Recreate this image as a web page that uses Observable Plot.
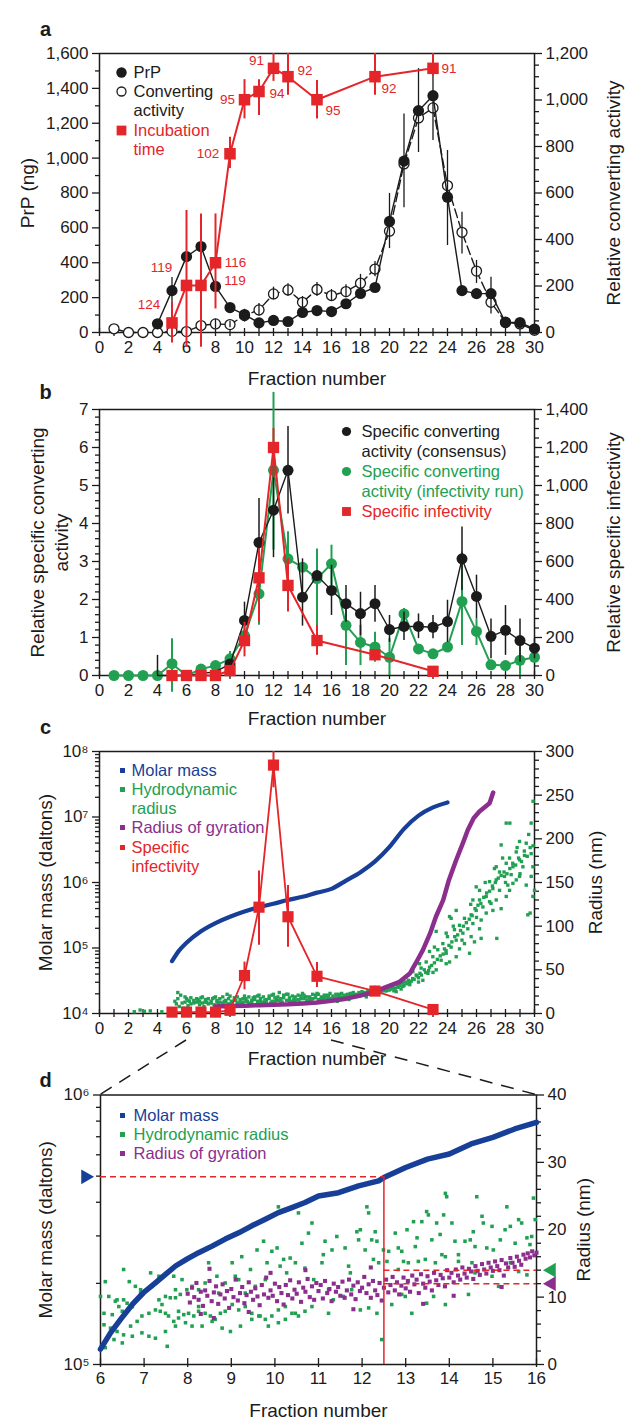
<!DOCTYPE html>
<html>
<head>
<meta charset="utf-8">
<script src="https://cdn.jsdelivr.net/npm/d3@7"></script>
<script src="https://cdn.jsdelivr.net/npm/@observablehq/plot@0.6"></script>
<style>
  html, body { margin: 0; padding: 0; background: #ffffff; }
  #root { position: relative; width: 638px; height: 1425px; overflow: hidden; background: #ffffff; }
  #root svg { position: absolute; left: 0; }
</style>
</head>
<body>
<div id="root"></div>
<script>
// ================= DATA =================
// ---- Panel a ----
const aFraction = [1,2,3,4,5,6,7,8,9,10,11,12,13,14,15,16,17,18,19,20,21,22,23,24,25,26,27,28,29,30];
const aActivity = [16,0,0,0,5,4,30,37,34,73,97,166,183,130,185,159,176,212,273,436,725,923,966,632,431,264,130,44,37,10];
const aPrpFraction = [4,5,6,7,8,9,10,11,12,13,14,15,16,17,18,19,20,21,22,23,24,25,26,27,28,29,30];
const aPrp = [50,240,435,493,264,143,103,55,69,63,115,126,120,165,224,258,637,983,1272,1358,776,240,223,223,57,57,20];
const aActErrFraction = [7,8,9,10,11,12,13,14,15,16,17,18,19,20,21,22,23,24,25,26,27];
const aActErrLow  = [15,17,20,45,70,140,155,105,155,135,150,175,240,361,537,774,826,374,338,211,80];
const aActErrHigh = [45,57,48,100,125,195,210,155,215,185,205,250,305,598,940,1135,1200,783,517,310,238];
const aPrpErrFraction = [5];
const aPrpErrLow = [143];
const aPrpErrHigh = [315];
const aIncFraction = [5,6,7,8,9,10,11,12,13,15,19,23];
const aIncPosition = [55,270,270,400,1025,1335,1382,1515,1467,1335,1467,1515];
const aIncDays = [124,119,119,116,102,95,94,91,92,95,92,91];
const aIncErrLow  = [-60,-85,-85,135,940,1225,1245,1440,1360,1225,1360,1470];
const aIncErrHigh = [170,700,680,680,1120,1450,1450,1600,1600,1445,1600,1600];
const aPrpTicks = [0,200,400,600,800,1000,1200,1400,1600];
const aActTicks = [0,200,400,600,800,1000,1200];

// ---- Panel b ----
const bFraction = [1,2,3,4,5,6,7,8,9,10,11,12,13,14,15,16,17,18,19,20,21,22,23,24,25,26,27,28,29,30];
const bInfRun = [0,0,0,0,0.31,0,0.17,0.26,0.44,1.05,2.15,5.4,3.07,2.85,2.55,2.94,1.32,0.87,0.75,0.48,1.62,0.70,0.57,0.75,1.95,1.16,0.28,0.26,0.40,0.48];
const bInfRunErrFraction = [5,9,11,12,13,15,16,17,18,19,20,21,25,26,29];
const bInfRunErrLow  = [-0.44,0.17,1.32,3.3,2.37,1.23,2.37,0.26,0.26,0.35,0,1.23,0.79,0.79,0];
const bInfRunErrHigh = [0.97,0.63,2.63,7.45,3.78,3.33,3.43,1.84,1.32,1.14,0.97,1.76,3.25,1.49,0.97];
const bConsFraction = [4,5,6,7,8,9,10,11,12,13,14,15,16,17,18,19,20,21,22,23,24,25,26,27,28,29,30];
const bCons = [0,0,0,0.05,0.1,0.3,1.45,3.5,4.35,5.4,2.06,2.63,2.24,1.89,1.63,1.89,1.21,1.29,1.29,1.27,1.42,3.07,2.08,1.03,1.19,0.92,0.72];
const bConsErrFraction = [4,10,11,12,13,14,16,17,18,19,20,21,22,23,24,25,26,27,28,29,30];
const bConsErrLow  = [0,0.97,2.37,3.1,4.25,1.3,1.58,1.40,1.05,1.40,0.87,0.92,0.97,0.97,0.87,2.24,1.49,0.44,0.53,0.35,0.44];
const bConsErrHigh = [0.53,1.93,4.66,5.6,6.55,3.07,2.9,2.37,2.19,2.37,1.58,1.67,1.62,1.58,1.98,3.91,2.64,1.49,1.84,1.49,0.97];
const bInfFraction = [5,6,7,8,9,10,11,12,13,15,19,23];
const bInfectivity = [0,0,0,0,26,184,514,1200,474,184,109,22];
const bInfErrFraction = [10,11,12,13,15,19];
const bInfErrLow  = [98,281,1040,334,106,90];
const bInfErrHigh = [280,666,1300,614,264,130];
const bLeftTicks = [0,1,2,3,4,5,6,7];
const bRightTicks = [0,200,400,600,800,1000,1200,1400];

// ---- Panel c (molar mass in daltons, radii in nm) ----
const cInfFraction = [5,6,7,8,9,10,11,12,13,15,19,23];
const cInfectivity = [1.05e4,1.05e4,1.05e4,1.05e4,1.12e4,3.8e4,4.2e5,6.2e7,3.0e5,3.7e4,2.2e4,1.15e4];
const cInfErrFraction = [10,11,12,13,15,19];
const cInfErrLow  = [2.3e4,1.1e5,2.8e7,1.03e5,2.5e4,1.9e4];
const cInfErrHigh = [6.1e4,1.5e6,1e8,9e5,6e4,2.6e4];
const cMassFraction = [5,5.5,6,7,8,9,10,11,12,13,14,15,16,17,18,19,20,21,22,23,24];
const cMass = [6.3e4,9.2e4,1.2e5,1.8e5,2.4e5,3.0e5,3.6e5,4.2e5,4.75e5,5.4e5,6.05e5,7.0e5,8.0e5,1.07e6,1.44e6,2.1e6,3.5e6,6.6e6,1.05e7,1.4e7,1.67e7];
const cGyrFraction = [8,9,10,11,12,13,14,15,16,17,18,19,19.8,20.7,21.4,21.8,22.3,22.8,23.2,23.7,24.1,24.6,25.1,25.4,25.8,26.2,26.9,27.15];
const cGyr = [8,8.5,9,9.5,10,10.5,11.5,12.5,14.5,17,20.5,25,30.5,36.3,45.8,57.3,72.6,91.7,110.8,129.9,152.9,175.8,196.8,210.2,223.6,231.2,240.8,253];
const cHydro = [
 [2.4,2],[2.8,4],[3.1,2.5],[3.5,3],[4.3,2],[5.3,11],[5.6,21],[5.5,8],[5.9,13],[6.1,9],[6.3,11],[6.5,15],[6.7,13],[6.9,10],[7.1,12],[7.3,16],[7.5,11],[7.7,14],[7.9,10],[8.1,13],[8.3,17],[8.5,12],[8.7,15],[8.9,11],[9.1,14],[9.3,18],[9.5,12],[9.7,16],[9.9,13],[10.1,17],[10.3,12],[10.5,15],[10.7,19],[10.9,14],[11.1,17],[11.3,13],[11.5,16],[11.7,20],[11.9,14],[12.1,18],[12.3,15],[12.5,17],[12.7,21],[12.9,15],[13.1,18],[13.3,14],[13.5,19],[13.7,16],[13.9,20],[14.1,17],[14.3,15],[14.5,19],[14.7,17],[14.9,21],[15.1,16],[15.3,19],[15.5,18],[15.7,21],[15.9,17],[16.1,20],[16.3,18],[16.5,22],[16.7,19],[16.9,21],[17.1,20],[17.3,23],[17.5,21],[17.7,22],[17.9,24],[18.1,22],[18.3,24],[18.5,23],[18.7,26],[18.9,24],[19.1,25],[19.3,27],[19.5,26],[19.7,28],[19.9,29],
 [6.0,17],[7.0,18],[8.0,19],[9.0,20],[10.0,20],[11.0,21],[12.0,22],[13.0,22],[14.0,23],[15.0,23],[5.8,6],[7.2,8],[9.2,9],[11.2,10],[13.2,11],[15.2,13],[17.2,16],[18.4,19],
 [6.2,14],[6.8,16],[7.4,13],[7.8,17],[8.2,11],[8.6,14],[9.4,15],[9.8,11],[10.2,14],[10.6,18],[11.4,15],[11.8,12],[12.2,16],[12.6,13],[13.4,16],[13.8,13],[14.2,19],[14.6,14],[15.4,16],[15.8,20],[16.2,17],[16.6,16],[17.0,18],[17.4,19],[17.8,20],[18.2,21],[18.6,22],[19.0,23],[19.4,24],[19.8,26],
 [5.2,14],[5.4,17],[5.7,12],[5.9,19],[6.1,15],[6.3,18],[6.5,12],[6.7,17],[6.9,14],[7.1,19],[7.3,13],[7.5,17],[7.7,12],[7.9,18],[8.1,15],[8.3,13],[8.5,19],[8.7,13],[8.9,17],[9.1,12],[9.3,15],[9.5,19],[9.7,13],[9.9,17],[10.1,14],[10.3,19],[10.5,13],[10.7,16],[10.9,20],[11.1,14],[11.3,19],[11.5,13],[11.7,17],[11.9,21],[12.1,14],[12.3,19],[12.5,14],[12.7,18],[12.9,22],[13.1,15],[13.3,20],[13.5,15],[13.7,21],[13.9,17],[14.1,21],[14.3,19],[14.5,16],[14.7,22],[14.9,18],[15.1,22],[15.3,17],[15.5,21],[15.7,18],[15.9,23],[16.1,18],[16.3,22],[16.5,19],[16.7,23],[16.9,19],[17.1,22],[17.3,20],[17.5,24],[17.7,21],[17.9,22],[18.1,25],[18.3,22],[18.5,25],[18.7,23],[18.9,27],[19.1,24],[19.3,25],[19.5,28],[19.7,26],[19.9,27],[5.4,24],[8.8,22],[12.4,24],[10.2,9],[14.8,12],[16.4,14],
 [20.0,27],[20.2,30],[20.3,26],[20.5,33],[20.6,30],[20.8,28],[21.0,32],[21.1,36],[21.3,38],[21.4,33],[21.6,40],[21.9,43],[22.1,46],[22.4,50],
 [20.1,28],[20.4,29],[20.7,32],[20.9,35],[21.2,34],[21.5,37],[21.7,39],[22.0,41],[22.2,44],[22.5,47],[22.7,49],[22.9,55],[23.1,58],[23.3,62],[23.5,66],[23.7,68],[23.9,72],[24.1,78],[24.3,82],[24.5,88],[24.7,90],[24.9,95],[25.1,100],[25.3,104],[25.5,108],[25.7,112],[25.9,120],[26.1,124],[26.3,126],[26.5,133],[26.7,138],[26.9,140],[27.1,146],[27.3,150],[27.5,155],[27.7,158],[27.9,162],[28.1,160],[28.3,166],[28.5,172],[28.7,170],[28.9,178],[29.1,174],[29.3,186],[29.5,180],[29.7,190],[29.9,192],[24.0,88],[25.0,84],[26.0,110],[27.0,126],[28.0,150],[29.0,160],[23.0,47],[22.0,36],[26.6,150],[27.8,178],[28.8,190],[29.6,205],[25.6,125],[24.4,100],
 [29.9,243],[28.05,218],[29.77,218],[28.97,197],[27.7,193],[29.43,195],[28.74,185],[29.31,181],[29.77,183],[28.28,178],[28.97,176],[28.05,172],[28.51,168],[27.24,166],[29.2,168],[27.59,162],[28.39,159],[27.93,157],[28.74,153],[29.77,157],[27.36,153],[26.9,151],[28.16,147],[25.98,145],[27.13,143],[27.59,141],[28.05,134],[26.67,134],[26.21,130],[29.89,134],[26.9,128],[27.7,120],[26.44,122],[25.98,118],[25.63,113],[26.67,115],[29.54,113],[24.6,118],[25.17,109],[25.75,103],[24.25,109],[24.83,101],[25.4,97],[26.21,97],[24.48,96],[25.06,92],[23.91,92],[25.63,88],[24.6,84],[26.32,86],[23.22,94],[23.68,80],[24.25,76],[24.83,74],[23.33,73],[23.91,69],[22.76,71],[22.99,65],[23.56,61],[24.14,59],[22.53,59],[22.07,57],[22.76,53],[22.18,52],[21.61,48],[21.84,44],[21.15,42],[21.38,36],[20.69,34],[20.23,31],[20.92,31],[19.77,27],[20.46,25],[27.36,168],[30.0,141],[26.21,141],[27.36,130],[28.28,141],[23.91,57],[23.22,50],[22.65,46],[22.3,38],[25.52,69],[25.17,80],[25.86,82],[26.32,107],[28.97,157],[29.43,147],[29.89,168],[28.51,149],[27.13,118],[25.75,130],[24.14,111],[23.79,74],[24.6,65],[23.1,76],[28.3,218],[29.7,115],[27.4,86]
];
const cMassTicks = [1e4,1e5,1e6,1e7,1e8];
const cRadiusTicks = [0,50,100,150,200,250,300];

// ---- Panel d ----
const dMassFraction = [6.0,6.23,6.46,6.73,6.99,7.26,7.49,7.72,7.98,8.25,8.56,8.86,9.17,9.47,9.78,10.08,10.39,10.69,11.0,11.46,11.92,12.38,12.5,13,13.5,14,14.5,15,15.5,16];
const dMass = [1.14e5,1.31e5,1.47e5,1.67e5,1.85e5,2.01e5,2.16e5,2.32e5,2.46e5,2.60e5,2.75e5,2.92e5,3.08e5,3.27e5,3.46e5,3.66e5,3.82e5,3.99e5,4.22e5,4.34e5,4.6e5,4.8e5,4.94e5,5.38e5,5.78e5,6.04e5,6.58e5,6.96e5,7.48e5,7.91e5];
const dHydro = [
 [6.11,12.3],[6.53,14.1],[6.66,12.3],[6.0,10.1],[6.19,10.1],[6.34,9.4],[6.08,7.6],[6.27,7.4],[6.42,8.6],[6.5,7.9],[6.61,9.1],[6.73,8.6],[6.8,9.4],[6.92,10.6],[7.03,10.9],[7.18,11.6],[7.26,12.1],[7.34,9.6],[7.41,8.9],[7.49,10.1],[7.6,9.9],[7.72,9.9],[7.83,10.4],
 [6.08,5.9],[6.23,5.4],[6.38,4.9],[6.53,4.4],[6.69,5.7],[6.84,6.4],[6.95,7.2],[7.11,7.6],[7.26,8.1],[7.37,7.9],[7.49,7.6],[7.56,7.2],[7.68,6.4],[7.79,6.9],[7.91,7.4],[8.02,7.6],[8.14,7.2],[8.25,7.9],[8.4,7.6],[8.52,7.2],[8.63,6.7],[8.75,7.6],[8.86,7.9],[9.02,8.9],[9.17,8.1],[9.32,8.6],[9.47,7.6],[9.63,7.2],[9.78,6.7],[9.93,7.2],[10.08,8.1],[10.24,8.6],[10.39,7.6],[10.54,7.2],[10.69,7.9],[10.85,8.6],
 [6.11,2.5],[6.31,3.7],[6.5,3.2],[6.73,4.2],[6.95,4.7],[7.11,4.2],[7.26,3.9],[7.49,4.9],[7.53,2.7],[7.72,5.7],[7.95,6.2],[8.1,5.7],[8.33,5.7],[8.56,6.4],[8.79,5.4],[8.98,4.9],[9.21,5.7],[9.47,6.7],[9.66,7.2],[9.85,5.7],[10.08,6.2],[10.24,6.7],[10.47,7.6],
 [8.25,11.1],[8.48,15.1],[8.67,13.1],[8.86,12.1],[9.02,15.1],[9.09,13.1],[9.24,16.0],[9.44,14.1],[9.59,17.0],[9.74,18.3],[9.82,15.1],[9.93,16.8],[10.05,17.3],[10.12,14.6],[10.2,15.6],[10.27,13.6],[10.35,15.8],[10.47,15.1],[10.54,22.5],[10.62,18.0],[10.69,14.3],[10.77,19.5],[10.85,21.0],[10.89,12.6],[10.08,23.4],[9.78,12.6],[9.55,11.6],[9.32,10.6],[9.17,12.6],[8.71,10.6],[8.4,12.1],[8.1,11.6],[7.87,12.6],[7.98,11.1],[7.68,13.1],[7.34,13.1],[7.15,13.6],[6.92,11.1],[6.8,11.6],[6.53,9.6],[6.38,9.6],[7.72,11.1],[7.79,7.9],[8.25,8.6],
 [11.15,18.3],[11.31,17.0],[11.11,16.3],[11.08,15.1],[11.42,19.0],[11.61,17.3],[11.69,14.6],[11.73,13.6],[11.88,19.7],[11.96,20.0],[11.92,18.5],[12.11,23.4],[12.15,22.5],[12.07,17.0],[12.22,18.5],[12.34,18.3],[12.3,19.7],[12.26,15.6],[12.38,15.1],[12.49,17.0],[12.61,16.8],[12.57,15.3],[12.45,3.7],[12.76,19.5],[12.83,17.3],[12.91,16.8],[12.95,15.3],[13.03,20.0],[13.18,21.2],[13.26,18.8],[13.22,17.5],[13.37,21.2],[13.48,22.7],[13.52,22.2],[13.45,15.6],[13.6,18.5],[13.71,21.0],[13.79,19.3],[13.87,22.2],[13.91,25.4],[13.94,24.9],[13.83,16.3],[13.91,16.0],[14.06,21.0],[14.13,18.3],[14.21,16.3],[14.36,18.3],[14.48,18.5],[14.55,19.7],[14.63,24.9],[14.59,17.5],[14.75,22.0],[14.78,21.0],[14.86,17.3],[14.98,20.5],[15.01,17.0],[15.17,18.5],[15.28,20.0],[15.32,23.4],[15.4,20.5],[15.51,18.0],[15.59,21.5],[15.66,21.0],[15.78,18.8],[15.89,19.0],[15.93,24.7],[15.97,21.5],[15.85,17.8],
 [11.23,11.1],[11.34,9.6],[11.23,7.6],[11.57,10.1],[11.76,11.1],[11.96,8.1],[12.15,8.4],[12.34,7.6],[12.68,8.9],[12.91,10.4],[12.99,10.1],[13.14,7.6],[13.48,9.1],[13.64,10.1],[13.91,8.9],[14.44,10.4],[14.59,13.6],[15.13,11.6],[14.98,13.1],[15.4,15.1],[15.59,13.8],[15.78,13.3],[14.52,15.1],[14.21,15.3],[13.68,15.1],[13.29,15.3],[13.06,15.1],[12.83,14.1]
];
const dGyr = [
 [8.0,10.5],[8.05,9.2],[8.1,11.4],[8.15,10.0],[8.2,12.1],[8.25,9.6],[8.3,10.8],[8.35,8.7],[8.4,11.0],[8.45,10.2],[8.5,12.4],[8.55,9.4],[8.6,10.7],[8.65,11.6],[8.7,9.0],[8.75,10.4],[8.8,11.9],[8.85,9.8],[8.9,10.9],[8.95,8.4],[9.0,11.2],[9.05,10.0],[9.1,12.6],[9.15,9.5],[9.2,10.6],[9.25,11.5],[9.3,9.1],[9.35,10.3],[9.4,12.2],[9.45,10.8],[9.5,9.6],[9.55,11.3],[9.6,10.1],[9.65,8.8],[9.7,11.8],[9.75,10.4],[9.8,12.9],[9.85,9.9],[9.9,11.0],[9.95,10.2],[10.0,12.0],[10.05,9.4],[10.1,11.5],[10.15,10.6],[10.2,8.9],[10.25,11.8],[10.3,10.3],[10.35,12.5],[10.4,9.8],[10.45,11.1],[10.5,10.5],[10.55,12.2],[10.6,9.3],[10.65,11.4],[10.7,10.8],[10.75,12.7],[10.8,10.0],[10.85,11.6],[10.9,9.6],[10.95,12.1],
 [11.0,10.9],[11.05,11.8],[11.1,9.8],[11.15,12.4],[11.2,10.6],[11.25,11.2],[11.3,9.4],[11.35,12.0],[11.4,10.8],[11.45,11.5],[11.5,10.2],[11.55,12.3],[11.6,9.9],[11.65,11.0],[11.7,12.6],[11.75,10.4],[11.8,11.7],[11.85,9.7],[11.9,12.2],[11.95,10.9],[12.0,11.4],[12.05,13.0],[12.1,10.6],[12.15,11.9],[12.2,9.9],[12.25,12.4],[12.3,11.0],[12.35,10.3],[12.4,12.1],[12.45,9.5],[12.5,11.4],[12.55,12.6],[12.6,10.7],[12.65,11.8],[12.7,13.0],[12.75,11.0],[12.8,12.2],[12.85,10.4],[12.9,11.7],[12.95,12.9],
 [13.0,11.3],[13.05,12.4],[13.1,10.8],[13.15,13.2],[13.2,11.9],[13.25,12.6],[13.3,10.6],[13.35,13.4],[13.4,12.0],[13.45,11.4],[13.5,13.1],[13.55,12.3],[13.6,11.0],[13.65,13.6],[13.7,12.5],[13.75,11.8],[13.8,13.3],[13.85,12.8],[13.9,11.6],[13.95,14.0],[14.0,12.9],[14.05,13.6],[14.1,12.2],[14.15,14.1],[14.2,13.2],[14.25,12.6],[14.3,14.4],[14.35,13.5],[14.4,12.9],[14.45,14.2],[14.5,13.8],[14.55,12.7],[14.6,14.6],[14.65,13.9],[14.7,13.3],[14.75,14.9],[14.8,14.1],[14.85,13.5],[14.9,15.1],[14.95,14.4],
 [15.0,13.9],[15.05,15.3],[15.1,14.6],[15.15,14.0],[15.2,15.5],[15.25,13.2],[15.3,15.0],[15.35,14.4],[15.4,15.8],[15.45,15.1],[15.5,14.5],[15.55,16.0],[15.6,15.4],[15.65,14.8],[15.7,16.3],[15.75,15.7],[15.8,16.5],[15.85,15.9],[15.9,16.8],[15.95,16.2],[16.0,16.6],
 [8.3,7.5],[8.6,6.9],[9.4,7.8],[11.8,8.2],[13.4,9.0],[14.1,10.2],[15.2,11.5],[8.5,14.2],[10.7,14.0],[9.9,13.6],[12.2,14.4]
];
const dMassTicks = [1e5,1e6];
const dMarkFraction = 12.5;
const dMarkMass = 4.97e5;
const dMarkHydro = 14;
const dMarkGyr = 12;
const dRadiusTicks = [0,10,20,30,40];

// ================= STYLE / HELPERS =================
const BLACK = "#1b1b1b", RED = "#e4252a", GREEN = "#21a052", PURPLE = "#8b2e8d", BLUE = "#183f98";
const FONT = '"Liberation Sans", Arial, Helvetica, sans-serif';
const W = 638;
const root = document.getElementById("root");
const baseStyle = {fontFamily: FONT, fontSize: "17px", color: BLACK, background: "transparent", overflow: "visible"};
const blank = () => "";
const sup = "⁰¹²³⁴⁵⁶⁷⁸⁹";
const lg = Math.log10;
const logFmt = v => "10" + sup[Math.round(v)];

function xAxes(major, minor, outward, inward) {
  return [
    Plot.axisX({ticks: major, tickSize: outward, tickPadding: 4, label: null, tickFormat: d => String(d), strokeWidth: 1.3}),
    Plot.axisX({ticks: minor, tickSize: outward, label: null, tickFormat: blank, strokeWidth: 1.3}),
    Plot.axisX({ticks: major.concat(minor), tickSize: -inward, label: null, tickFormat: blank, strokeWidth: 1.3})
  ];
}
function yAxes(anchor, major, minor, fmt) {
  return [
    Plot.axisY({anchor, ticks: major, tickSize: 7, tickPadding: 4, label: null, tickFormat: fmt, strokeWidth: 1.3}),
    Plot.axisY({anchor, ticks: minor, tickSize: 4, label: null, tickFormat: blank, strokeWidth: 1.3})
  ];
}
function sideTitle(str, anchor, dx) {
  return Plot.text([str], {frameAnchor: anchor, dx, rotate: -90, text: d => d, textAnchor: "middle", lineAnchor: "middle", fontSize: 19, fill: BLACK});
}
function bottomTitle(dy) {
  return Plot.text(["Fraction number"], {frameAnchor: "bottom", dy, text: d => d, textAnchor: "middle", lineAnchor: "middle", fontSize: 19, fill: BLACK});
}
function panelLetter(str, dx, dy) {
  return Plot.text([str], {frameAnchor: "top-left", dx, dy, text: d => d, textAnchor: "middle", lineAnchor: "middle", fontSize: 20, fontWeight: 900, fill: BLACK});
}
function legText(str, dx, dy, fill) {
  return Plot.text([str], {frameAnchor: "top-left", dx, dy, text: d => d, textAnchor: "start", lineAnchor: "middle", fontSize: 16.5, fill});
}
function legDot(dx, dy, opts) {
  return Plot.dot([0], {frameAnchor: "top-left", dx, dy, ...opts});
}
function place(svg, top) { svg.style.top = top + "px"; root.appendChild(svg); return svg; }
const range = (a, b, s) => d3.range(a, b + s / 2, s);

// ================= PANEL A =================
const K_A = 1600 / 1200;
const aActData = aFraction.map((f, i) => ({f, v: aActivity[i] * K_A}));
const aPrpData = aPrpFraction.map((f, i) => ({f, v: aPrp[i]}));
const aActErr = aActErrFraction.map((f, i) => ({f, lo: aActErrLow[i] * K_A, hi: aActErrHigh[i] * K_A}));
const aPrpErr = aPrpErrFraction.map((f, i) => ({f, lo: aPrpErrLow[i], hi: aPrpErrHigh[i]}));
const aInc = aIncFraction.map((f, i) => ({f, v: aIncPosition[i], days: aIncDays[i], lo: aIncErrLow[i], hi: aIncErrHigh[i]}));
const aIncLabelOffset = [[-23,-18],[-25,-18],[34,-5],[20,0],[-22,0],[-17,0],[18,2],[-17,-8],[17,-6],[16,11],[14,12],[16,0]];

const chartA = Plot.plot({
  width: W, height: 395, marginTop: 53, marginBottom: 63, marginLeft: 99, marginRight: 104,
  x: {domain: [0, 30], label: null}, y: {domain: [0, 1600], label: null},
  style: baseStyle,
  marks: [
    Plot.frame({stroke: BLACK, strokeWidth: 1.5}),
    ...xAxes(range(0, 30, 2), range(1, 29, 2), 4, 4),
    ...yAxes("left", aPrpTicks, range(100, 1500, 200), d3.format(",")),
    ...yAxes("right", aActTicks.map(v => v * K_A), range(50, 1150, 50).filter(v => v % 200).map(v => v * K_A), v => d3.format(",")(Math.round(v / K_A))),
    Plot.line(aActData, {x: "f", y: "v", stroke: BLACK, strokeWidth: 1.4, strokeDasharray: "9,4"}),
    Plot.dot(aActData, {x: "f", y: "v", r: 5, fill: "white", stroke: BLACK, strokeWidth: 1.3}),
    Plot.ruleX(aActErr, {x: "f", y1: "lo", y2: "hi", stroke: BLACK, strokeWidth: 1.3}),
    Plot.line(aPrpData, {x: "f", y: "v", stroke: BLACK, strokeWidth: 1.4}),
    Plot.dot(aPrpData, {x: "f", y: "v", r: 5.6, fill: BLACK}),
    Plot.ruleX(aPrpErr, {x: "f", y1: "lo", y2: "hi", stroke: BLACK, strokeWidth: 1.3}),
    Plot.ruleX(aInc, {x: "f", y1: "lo", y2: "hi", stroke: RED, strokeWidth: 2}),
    Plot.line(aInc, {x: "f", y: "v", stroke: RED, strokeWidth: 2}),
    Plot.dot(aInc, {x: "f", y: "v", symbol: "square", r: 6.5, fill: RED}),
    ...aInc.map((d, i) => Plot.text([d], {x: "f", y: "v", text: d => String(d.days), dx: aIncLabelOffset[i][0], dy: aIncLabelOffset[i][1], fill: RED, fontSize: 13.5})),
    legDot(22, 19, {r: 5.2, fill: BLACK}),
    legText("PrP", 34, 19, BLACK),
    legDot(22, 38, {r: 4.5, fill: "white", stroke: BLACK, strokeWidth: 1.3}),
    legText("Converting", 34, 38, BLACK),
    legText("activity", 34, 57, BLACK),
    legDot(22, 77, {symbol: "square", r: 5.5, fill: RED}),
    legText("Incubation", 34, 77, RED),
    legText("time", 34, 96, RED),
    sideTitle("PrP (ng)", "left", -72),
    sideTitle("Relative converting activity", "right", 79),
    bottomTitle(46),
    panelLetter("a", -54, -24)
  ]
});
place(chartA, 0);

// ================= PANEL B =================
const K_B = 7 / 1400;
const bRun = bFraction.map((f, i) => ({f, v: bInfRun[i]}));
const bRunErr = bInfRunErrFraction.map((f, i) => ({f, lo: bInfRunErrLow[i], hi: bInfRunErrHigh[i]}));
const bConsData = bConsFraction.map((f, i) => ({f, v: bCons[i]}));
const bConsErr = bConsErrFraction.map((f, i) => ({f, lo: bConsErrLow[i], hi: bConsErrHigh[i]}));
const bInf = bInfFraction.map((f, i) => ({f, v: bInfectivity[i] * K_B}));
const bInfErr = bInfErrFraction.map((f, i) => ({f, lo: bInfErrLow[i] * K_B, hi: bInfErrHigh[i] * K_B}));

const chartB = Plot.plot({
  width: W, height: 355, marginTop: 39, marginBottom: 50, marginLeft: 99, marginRight: 104,
  x: {domain: [0, 30], label: null}, y: {domain: [0, 7], label: null},
  style: baseStyle,
  marks: [
    Plot.frame({stroke: BLACK, strokeWidth: 1.5}),
    ...xAxes(range(0, 30, 2), range(1, 29, 2), 4, 4),
    ...yAxes("left", bLeftTicks, range(0.2, 6.8, 0.2).filter(v => Math.abs(v - Math.round(v)) > 0.01), d => String(d)),
    ...yAxes("right", bRightTicks.map(v => v * K_B), range(50, 1350, 50).filter(v => v % 200).map(v => v * K_B), v => d3.format(",")(Math.round(v / K_B))),
    Plot.ruleX(bRunErr, {x: "f", y1: "lo", y2: "hi", stroke: GREEN, strokeWidth: 2}),
    Plot.line(bRun, {x: "f", y: "v", stroke: GREEN, strokeWidth: 2}),
    Plot.dot(bRun, {x: "f", y: "v", r: 5.5, fill: GREEN}),
    Plot.ruleX(bConsErr, {x: "f", y1: "lo", y2: "hi", stroke: BLACK, strokeWidth: 1.5}),
    Plot.line(bConsData, {x: "f", y: "v", stroke: BLACK, strokeWidth: 1.4}),
    Plot.dot(bConsData.filter(d => d.f >= 9), {x: "f", y: "v", r: 5.5, fill: BLACK}),
    Plot.ruleX(bInfErr, {x: "f", y1: "lo", y2: "hi", stroke: RED, strokeWidth: 2}),
    Plot.line(bInf, {x: "f", y: "v", stroke: RED, strokeWidth: 2}),
    Plot.dot(bInf, {x: "f", y: "v", symbol: "square", r: 6.4, fill: RED}),
    legDot(247, 22, {r: 4.6, fill: BLACK}),
    legText("Specific converting", 262, 22, BLACK),
    legText("activity (consensus)", 262, 42, BLACK),
    legDot(247, 62, {r: 4.6, fill: GREEN}),
    legText("Specific converting", 262, 62, GREEN),
    legText("activity (infectivity run)", 262, 82, GREEN),
    legDot(247, 102, {symbol: "square", r: 5, fill: RED}),
    legText("Specific infectivity", 262, 102, RED),
    sideTitle("Relative specific converting", "left", -62),
    sideTitle("activity", "left", -38),
    sideTitle("Relative specific infectivity", "right", 79),
    bottomTitle(43),
    panelLetter("b", -54, -17)
  ]
});
place(chartB, 370);

// ================= PANEL C (y in log10 daltons) =================
const rC = r => 4 + r / 75;
const cInf = cInfFraction.map((f, i) => ({f, v: lg(cInfectivity[i])}));
const cInfErr = cInfErrFraction.map((f, i) => ({f, lo: lg(cInfErrLow[i]), hi: lg(cInfErrHigh[i])}));
const cMassData = cMassFraction.map((f, i) => ({f, v: lg(cMass[i])}));
const cGyrData = cGyrFraction.map((f, i) => ({f, v: rC(cGyr[i])}));
const cHydroData = cHydro.map(([f, r]) => ({f, v: rC(r)}));
const cLogMinor = [];
[4, 5, 6, 7].forEach(k => [2, 3, 4, 5, 6, 7, 8, 9].forEach(m => cLogMinor.push(k + lg(m))));

const chartC = Plot.plot({
  width: W, height: 370, marginTop: 51, marginBottom: 57, marginLeft: 99, marginRight: 104,
  x: {domain: [0, 30], label: null}, y: {domain: [4, 8], label: null},
  style: baseStyle,
  marks: [
    Plot.frame({stroke: BLACK, strokeWidth: 1.5}),
    ...xAxes(range(0, 30, 2), range(1, 29, 2), 4, 4),
    ...yAxes("left", cMassTicks.map(lg), cLogMinor, logFmt),
    ...yAxes("right", cRadiusTicks.map(rC), range(10, 290, 10).filter(v => v % 50).map(rC), v => String(Math.round(75 * (v - 4)))),
    Plot.dot(cHydroData, {x: "f", y: "v", symbol: "square", r: 1.9, fill: GREEN}),
    Plot.line(cGyrData, {x: "f", y: "v", stroke: PURPLE, strokeWidth: 4.5}),
    Plot.line(cMassData, {x: "f", y: "v", stroke: BLUE, strokeWidth: 4.2, curve: "monotone-x"}),
    Plot.ruleX(cInfErr, {x: "f", y1: "lo", y2: "hi", stroke: RED, strokeWidth: 2}),
    Plot.line(cInf, {x: "f", y: "v", stroke: RED, strokeWidth: 1.8}),
    Plot.dot(cInf, {x: "f", y: "v", symbol: "square", r: 6.3, fill: RED}),
    legDot(23, 19, {symbol: "square", r: 2.8, fill: BLUE}),
    legText("Molar mass", 32, 19, BLUE),
    legDot(23, 38, {symbol: "square", r: 2.8, fill: GREEN}),
    legText("Hydrodynamic", 32, 38, GREEN),
    legText("radius", 32, 57, GREEN),
    legDot(23, 76, {symbol: "square", r: 2.8, fill: PURPLE}),
    legText("Radius of gyration", 32, 76, PURPLE),
    legDot(23, 96, {symbol: "square", r: 2.8, fill: RED}),
    legText("Specific", 32, 96, RED),
    legText("infectivity", 32, 115, RED),
    sideTitle("Molar mass (daltons)", "left", -54),
    sideTitle("Radius (nm)", "right", 61),
    bottomTitle(45),
    panelLetter("c", -54, -24)
  ]
});
place(chartC, 700);

// ================= PANEL D (y in log10 daltons) =================
const rD = r => 5 + r / 40;
const dMassData = dMassFraction.map((f, i) => ({f, v: lg(dMass[i])}));
const dHydroData = dHydro.map(([f, r]) => ({f, v: rD(r)}));
const dGyrData = dGyr.map(([f, r]) => ({f, v: rD(r)}));

const chartD = Plot.plot({
  width: W, height: 365, marginTop: 34.5, marginBottom: 61, marginLeft: 100, marginRight: 102,
  x: {domain: [6, 16], label: null}, y: {domain: [5, 6], label: null},
  style: baseStyle,
  marks: [
    Plot.frame({stroke: BLACK, strokeWidth: 1.5}),
    ...xAxes(range(6, 16, 1), [], 3, 6),
    ...yAxes("left", dMassTicks.map(lg), [2, 3, 4, 5, 6, 7, 8, 9].map(m => 5 + lg(m)), logFmt),
    ...yAxes("right", dRadiusTicks.map(rD), range(2, 38, 2).filter(v => v % 10).map(rD), v => String(Math.round(40 * (v - 5)))),
    Plot.dot(dHydroData, {x: "f", y: "v", symbol: "square", r: 2, fill: GREEN}),
    Plot.dot(dGyrData, {x: "f", y: "v", symbol: "square", r: 2.3, fill: PURPLE}),
    Plot.line(dMassData, {x: "f", y: "v", stroke: BLUE, strokeWidth: 5.5}),
    Plot.ruleY([lg(dMarkMass)], {y: d => d, x1: 6, x2: dMarkFraction, stroke: RED, strokeWidth: 1.5, strokeDasharray: "6,4"}),
    Plot.ruleY([rD(dMarkHydro), rD(dMarkGyr)], {y: d => d, x1: dMarkFraction, x2: 16, stroke: RED, strokeWidth: 1.5, strokeDasharray: "6,4"}),
    Plot.ruleX([dMarkFraction], {x: d => d, y1: 5, y2: lg(dMarkMass), stroke: RED, strokeWidth: 1.5}),
    Plot.dot([lg(dMarkMass)], {y: d => d, frameAnchor: "left", dx: -15, symbol: "triangle", rotate: 90, r: 5.5, fill: BLUE}),
    Plot.dot([rD(dMarkHydro)], {y: d => d, frameAnchor: "right", dx: 15, symbol: "triangle", rotate: -90, r: 5.5, fill: GREEN}),
    Plot.dot([rD(dMarkGyr)], {y: d => d, frameAnchor: "right", dx: 15, symbol: "triangle", rotate: -90, r: 5.5, fill: PURPLE}),
    legDot(22, 20.5, {symbol: "square", r: 2.8, fill: BLUE}),
    legText("Molar mass", 33, 20.5, BLUE),
    legDot(22, 39.5, {symbol: "square", r: 2.8, fill: GREEN}),
    legText("Hydrodynamic radius", 33, 39.5, GREEN),
    legDot(22, 58.5, {symbol: "square", r: 2.8, fill: PURPLE}),
    legText("Radius of gyration", 33, 58.5, PURPLE),
    sideTitle("Molar mass (daltons)", "left", -55),
    sideTitle("Radius (nm)", "right", 47),
    bottomTitle(46),
    panelLetter("d", -55, -14.5)
  ]
});
place(chartD, 1060);

// ================= ZOOM CONNECTORS (c -> d) =================
const TOP_D = 1060, CONNECT_START = 1040;
const xC = chartC.scale("x"), xD = chartD.scale("x"), yD = chartD.scale("y");
const over = d3.create("svg").attr("width", W).attr("height", 1425)
  .style("position", "absolute").style("top", "0px").style("left", "0px").style("pointer-events", "none");
const dTop = TOP_D + yD.apply(6);
[[6, 6], [16, 16]].forEach(([fc, fd]) => {
  over.append("line")
    .attr("x1", xC.apply(fc)).attr("y1", CONNECT_START)
    .attr("x2", xD.apply(fd)).attr("y2", dTop)
    .attr("stroke", BLACK).attr("stroke-width", 1.5).attr("stroke-dasharray", "13,9");
});
root.appendChild(over.node());
</script>
</body>
</html>
